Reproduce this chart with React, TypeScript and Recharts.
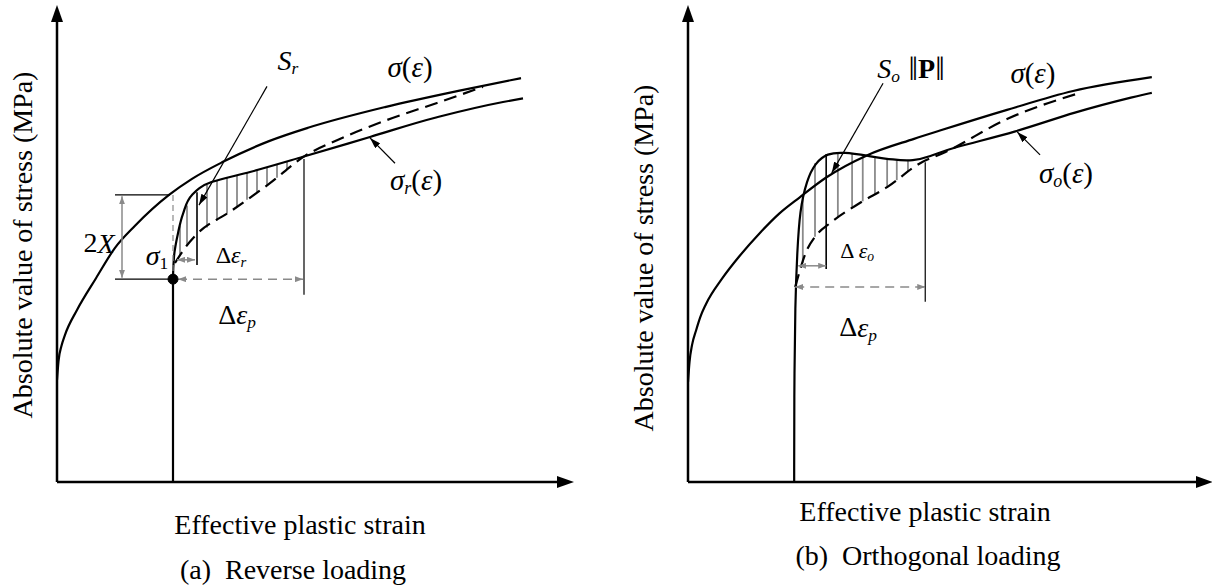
import React from 'react';
import { ComposedChart, Line, XAxis, YAxis, ReferenceLine, ReferenceDot } from 'recharts';

type Pt = { x: number; y: number };

// (a) reverse loading – strain / stress in arbitrary units (0..100)
const monotonicA: Pt[] = [
  { x: 0, y: 22.2 }, { x: 0.3, y: 26.3 }, { x: 0.9, y: 29.6 }, { x: 1.6, y: 32 },
  { x: 4, y: 37.4 }, { x: 7.8, y: 44.3 }, { x: 11.6, y: 50.9 }, { x: 15.6, y: 55.7 },
  { x: 22.4, y: 62.4 }, { x: 27, y: 65.9 }, { x: 33.2, y: 69.6 }, { x: 42.4, y: 74.1 },
  { x: 50.2, y: 77 }, { x: 65.6, y: 81.5 }, { x: 81, y: 85.2 }, { x: 92.8, y: 87.8 },
];
const reverseA: Pt[] = [
  { x: 23.2, y: 0 }, { x: 23.2, y: 22 }, { x: 23.2, y: 43.9 }, { x: 23.4, y: 49 },
  { x: 24.2, y: 54.1 }, { x: 25.2, y: 58.3 }, { x: 27, y: 62.4 }, { x: 30.9, y: 65.2 },
  { x: 38.6, y: 67.4 }, { x: 49.2, y: 70.7 }, { x: 62.6, y: 75 }, { x: 76, y: 79.3 },
  { x: 89.2, y: 82.6 }, { x: 93.2, y: 83.4 },
];
const dashedA: Pt[] = [
  { x: 23.6, y: 47.6 }, { x: 25.6, y: 50.9 }, { x: 27.8, y: 53.7 }, { x: 34.8, y: 58.9 },
  { x: 42.4, y: 64.8 }, { x: 49.6, y: 70.9 }, { x: 56, y: 74.3 }, { x: 66, y: 78.7 },
  { x: 76, y: 82.4 }, { x: 85.2, y: 85.9 },
];
const hatchA = [24.6, 26, 30, 32, 34, 36, 38, 40, 42, 44, 46];

// (b) orthogonal loading
const monotonicB: Pt[] = [
  { x: 0, y: 21.7 }, { x: 0.3, y: 26.1 }, { x: 0.8, y: 29.8 }, { x: 1.6, y: 33 },
  { x: 2.4, y: 35.8 }, { x: 3.5, y: 38.6 }, { x: 6.7, y: 44.2 }, { x: 10.2, y: 49.2 },
  { x: 14.2, y: 54.2 }, { x: 17.9, y: 58.3 }, { x: 22, y: 61.9 }, { x: 27.2, y: 66.2 },
  { x: 35.2, y: 71 }, { x: 44.5, y: 74.6 }, { x: 49.6, y: 76.4 }, { x: 62.8, y: 80.9 },
  { x: 75.8, y: 85 }, { x: 91.3, y: 88 },
];
const orthoB: Pt[] = [
  { x: 20.9, y: 0 }, { x: 20.9, y: 17.8 }, { x: 21.1, y: 39.6 }, { x: 21.5, y: 49.8 },
  { x: 22, y: 59.1 }, { x: 23.4, y: 65.7 }, { x: 25, y: 69.3 }, { x: 27.4, y: 71.5 },
  { x: 30.7, y: 71.7 }, { x: 35.4, y: 70.9 }, { x: 40.6, y: 70 }, { x: 44.3, y: 69.8 },
  { x: 47.6, y: 70.7 }, { x: 51.6, y: 72.6 }, { x: 64.8, y: 76.1 }, { x: 75.8, y: 80.4 },
  { x: 89, y: 84.1 }, { x: 91.3, y: 84.6 },
];
const dashedB: Pt[] = [
  { x: 21.1, y: 42.4 }, { x: 23.4, y: 50.4 }, { x: 25, y: 53.3 }, { x: 28, y: 56.3 },
  { x: 33.9, y: 60.7 }, { x: 39.2, y: 64.1 }, { x: 45.7, y: 69.3 }, { x: 50.6, y: 71.7 },
  { x: 62.8, y: 78.9 }, { x: 77.2, y: 84.6 },
];
const hatchB = [22.6, 25, 29.5, 32.3, 34.4, 36.8, 39.2, 41.1, 43.3];

const FONT = "'Liberation Serif', 'Times New Roman', Tinos, 'DejaVu Serif', serif";
const GRAY = '#8a8a8a';
const serif = { fontFamily: FONT, whiteSpace: 'pre' as const };

// linear lookup on a read curve, used only to end the hatch strokes on the curves
const at = (pts: Pt[], x: number) => {
  for (let i = 0; i < pts.length - 1; i++) {
    const a = pts[i];
    const b = pts[i + 1];
    if (b.x > a.x && x >= a.x && x <= b.x) return a.y + ((b.y - a.y) * (x - a.x)) / (b.x - a.x);
  }
  return pts[pts.length - 1].y;
};

const markers = (id: string) => (
  <defs>
    <marker id={`${id}-axis`} viewBox="0 0 17 12" refX="0" refY="6" markerWidth="17" markerHeight="12"
      markerUnits="userSpaceOnUse" orient="auto-start-reverse">
      <path d="M0,0 L17,6 L0,12 z" fill="#000" />
    </marker>
    <marker id={`${id}-black`} viewBox="0 0 11 7" refX="11" refY="3.5" markerWidth="11" markerHeight="7"
      markerUnits="userSpaceOnUse" orient="auto">
      <path d="M0,0 L11,3.5 L0,7 z" fill="#000" />
    </marker>
    <marker id={`${id}-gray`} viewBox="0 0 8 6" refX="8" refY="3" markerWidth="8" markerHeight="6"
      markerUnits="userSpaceOnUse" orient="auto-start-reverse">
      <path d="M0,0 L8,3 L0,6 z" fill={GRAY} />
    </marker>
  </defs>
);

const mathLabel = (content: React.ReactNode, size: number) => (p: any) => (
  <text x={p.cx} y={p.cy} textAnchor="middle" dominantBaseline="central" fontSize={size} fill="#000" style={serif}>
    {content}
  </text>
);

const it = (s: string) => <tspan fontStyle="italic">{s}</tspan>;
const sub = (s: string, size: number, italic = true) => (
  <tspan fontStyle={italic ? 'italic' : 'normal'} fontSize={size * 0.62} dy={size * 0.28}>{s}</tspan>
);
const up = (s: string, size: number) => <tspan dy={-size * 0.28}>{s}</tspan>;

const sigmaEps = () => <>{it('σ')}({it('ε')})</>;
const sigmaSubEps = (k: string, s: number) => <>{it('σ')}{sub(k, s)}{up('(', s)}{it('ε')})</>;

const seg = (key: string, x1: number, y1: number, x2: number, y2: number, opts: any) => (
  <ReferenceLine key={key} segment={[{ x: x1, y: y1 }, { x: x2, y: y2 }]} ifOverflow="visible" {...opts} />
);

const label = (key: string, x: number, y: number, content: React.ReactNode, size: number) => (
  <ReferenceDot key={key} x={x} y={y} r={0} ifOverflow="visible" shape={mathLabel(content, size)} />
);

const xTitle = (p: any, dx1: number, dy1: number, dx2: number, dy2: number, caption: string) => {
  const vb = p.viewBox || { x: 0, y: 0 };
  return (
    <g fontSize={28} fill="#000">
      <text x={vb.x + dx1} y={vb.y + dy1} textAnchor="middle" style={serif}>Effective plastic strain</text>
      <text x={vb.x + dx2} y={vb.y + dy2} textAnchor="middle" style={serif}>{caption}</text>
    </g>
  );
};

const yTitle = (p: any, bx: number, cy: number) => {
  const vb = p.viewBox || { x: 0, y: 0 };
  const x = vb.x + bx;
  const y = vb.y + cy;
  return (
    <text x={x} y={y} transform={`rotate(-90 ${x} ${y})`} textAnchor="middle" fontSize={28} fill="#000" style={serif}>
      Absolute value of stress (MPa)
    </text>
  );
};

const curve = { dot: false, activeDot: false, isAnimationActive: false, stroke: '#000', strokeWidth: 2.2, dataKey: 'y' };
const thin = { stroke: '#000', strokeWidth: 1.2 };
const grayArrow = (id: string) => ({ stroke: GRAY, strokeWidth: 1.5, markerStart: `url(#${id}-gray)`, markerEnd: `url(#${id}-gray)` });

const PanelA = () => (
  <ComposedChart width={606} height={588} margin={{ top: 22, right: 49, bottom: 0, left: 0 }}>
    {markers('a')}
    <XAxis type="number" dataKey="x" domain={[0, 100]} allowDataOverflow tick={false} tickLine={false} height={106}
      axisLine={{ stroke: '#000', strokeWidth: 2.5, markerEnd: 'url(#a-axis)' }}
      label={{ content: (p: any) => xTitle(p, 243, 52, 236, 97, '(a)  Reverse loading') }} />
    <YAxis type="number" domain={[0, 100]} allowDataOverflow tick={false} tickLine={false} width={57}
      axisLine={{ stroke: '#000', strokeWidth: 2.5, markerStart: 'url(#a-axis)' }}
      label={{ content: (p: any) => yTitle(p, 32, 223) }} />

    {hatchA.map((x) => seg(`ha${x}`, x, at(reverseA, x), x, at(dashedA, x), { stroke: GRAY, strokeWidth: 1.8 }))}

    <Line {...curve} data={monotonicA} type="monotone" />
    <Line {...curve} data={reverseA} type="monotoneY" />
    <Line {...curve} data={dashedA} type="monotone" strokeDasharray="13 7" />

    {seg('2xTop', 11.6, 62.4, 22.6, 62.4, thin)}
    {seg('2xBot', 11.6, 44.1, 23.2, 44.1, thin)}
    {seg('2xArr', 13, 62.1, 13, 44.4, grayArrow('a'))}
    {seg('s1dash', 23.2, 62.4, 23.2, 44.1, { stroke: GRAY, strokeWidth: 1.2, strokeDasharray: '6 4' })}
    {seg('drLine', 28, 63, 28, 47.2, { stroke: '#000', strokeWidth: 1.6 })}
    {seg('drArr', 24, 48.3, 27.6, 48.3, grayArrow('a'))}
    {seg('dpArr', 24.2, 44.1, 49.2, 44.1, { ...grayArrow('a'), strokeDasharray: '9 6' })}
    {seg('dpLine', 49.4, 70.2, 49.4, 40.7, thin)}
    {seg('srLead', 42, 86, 28.4, 60.2, { ...thin, markerEnd: 'url(#a-black)' })}
    {seg('sgLead', 67.6, 69.3, 62.6, 74.8, { ...thin, markerEnd: 'url(#a-black)' })}

    <ReferenceDot x={23.2} y={44.1} r={5} fill="#000" stroke="#000" ifOverflow="visible" />

    {label('lSr', 46.2, 91.7, <>{it('S')}{sub('r', 28)}</>, 28)}
    {label('lSig', 70.6, 90.2, sigmaEps(), 29)}
    {label('lSigR', 71.8, 65.7, sigmaSubEps('r', 29), 29)}
    {label('l2x', 8.4, 52, <>2{it('X')}</>, 28)}
    {label('lS1', 20, 49.3, <>{it('σ')}{sub('1', 28, false)}</>, 28)}
    {label('lDr', 34.8, 49.3, <>Δ{it('ε')}{sub('r', 24)}</>, 24)}
    {label('lDp', 36, 36.5, <>Δ{it('ε')}{sub('p', 28)}</>, 28)}
  </ComposedChart>
);

const PanelB = () => (
  <ComposedChart width={606} height={588} margin={{ top: 22, right: 16, bottom: 0, left: 0 }}>
    {markers('b')}
    <XAxis type="number" dataKey="x" domain={[0, 100]} allowDataOverflow tick={false} tickLine={false} height={106}
      axisLine={{ stroke: '#000', strokeWidth: 2.5, markerEnd: 'url(#b-axis)' }}
      label={{ content: (p: any) => xTitle(p, 237, 39, 240, 83, '(b)  Orthogonal loading') }} />
    <YAxis type="number" domain={[0, 100]} allowDataOverflow tick={false} tickLine={false} width={82}
      axisLine={{ stroke: '#000', strokeWidth: 2.5, markerStart: 'url(#b-axis)' }}
      label={{ content: (p: any) => yTitle(p, 47, 236) }} />

    {hatchB.map((x) => seg(`hb${x}`, x, at(orthoB, x), x, at(dashedB, x), { stroke: GRAY, strokeWidth: 1.8 }))}

    <Line {...curve} data={monotonicB} type="monotone" />
    <Line {...curve} data={orthoB} type="basis" />
    <Line {...curve} data={dashedB} type="monotone" strokeDasharray="13 7" />

    {seg('doLine', 27.2, 71.3, 27.2, 46.3, { stroke: '#000', strokeWidth: 1.6 })}
    {seg('doArr', 21.7, 47, 27.2, 47, grayArrow('b'))}
    {seg('dpArr', 21.1, 42.4, 46.7, 42.4, { ...grayArrow('b'), strokeDasharray: '9 6' })}
    {seg('dpLine', 46.7, 69.5, 46.7, 39.2, thin)}
    {seg('soLead', 38.4, 86.7, 28.3, 67.2, { ...thin, markerEnd: 'url(#b-black)' })}
    {seg('sgLead', 69.3, 71.1, 64.8, 76.1, { ...thin, markerEnd: 'url(#b-black)' })}

    {label('lSo', 43.9, 90,
      <>{it('S')}{sub('o', 28)}<tspan dy={-28 * 0.28} fontSize={34}> ‖</tspan><tspan fontWeight="bold">P</tspan><tspan fontSize={34}>‖</tspan></>, 28)}
    {label('lSig', 67.9, 88.9, sigmaEps(), 29)}
    {label('lSigO', 74.4, 67.2, sigmaSubEps('o', 29), 29)}
    {label('lDo', 33.3, 50.4, <>Δ {it('ε')}{sub('o', 22)}</>, 22)}
    {label('lDp', 33.5, 33.7, <>Δ{it('ε')}{sub('p', 28)}</>, 28)}
  </ComposedChart>
);

export default function App() {
  return (
    <div style={{ position: 'absolute', left: 0, top: 0, width: 1212, height: 588, display: 'flex', background: '#fff' }}>
      <PanelA />
      <PanelB />
    </div>
  );
}
